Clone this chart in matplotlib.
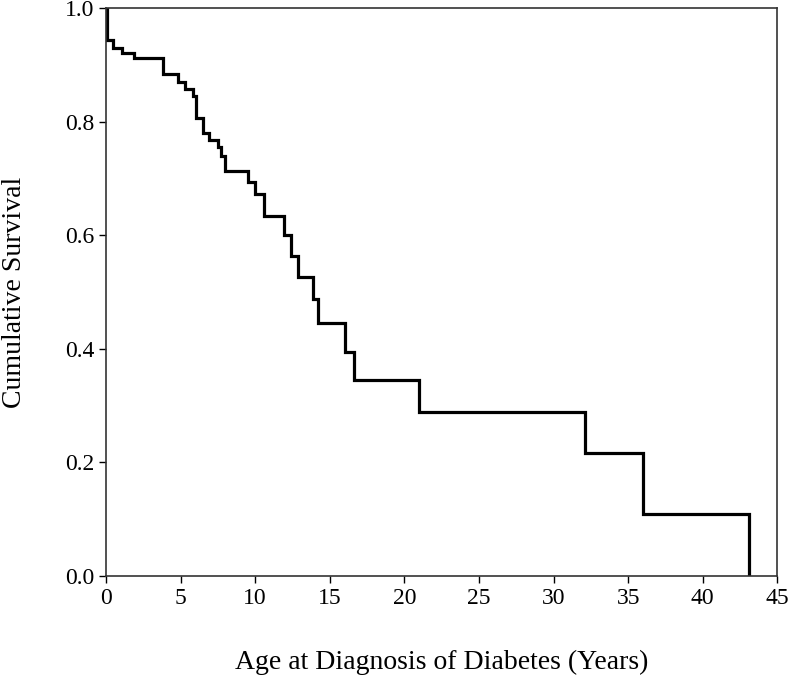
import matplotlib
matplotlib.use("Agg")
import matplotlib.pyplot as plt

# step times (years) and survival after each step
times = [0, 0.1, 0.45, 1.1, 1.9, 3.8, 4.8, 5.3, 5.8, 6.0, 6.5, 6.9, 7.5, 7.7,
         8.0, 9.5, 10.0, 10.6, 11.9, 12.4, 12.9, 13.9, 14.2, 16.0, 16.6,
         21.0, 32.1, 36.0, 43.1]
surv = [1.0, 0.944, 0.930, 0.921, 0.912, 0.884, 0.870, 0.858, 0.845, 0.806,
        0.780, 0.768, 0.755, 0.740, 0.713, 0.694, 0.672, 0.634, 0.600, 0.563,
        0.526, 0.488, 0.445, 0.394, 0.345, 0.288, 0.216, 0.108, 0.0]

xticks = [0, 5, 10, 15, 20, 25, 30, 35, 40, 45]
yticks = [0.0, 0.2, 0.4, 0.6, 0.8, 1.0]

plt.rcParams['font.family'] = ['Liberation Serif', 'DejaVu Serif']

fig = plt.figure(figsize=(7.88, 6.75), dpi=100)
ax = fig.add_axes([0.1345, 0.147, 0.852, 0.841])

# the original curve starts with a vertical drop at t=0
ax.plot([0] + times, [1.0] + surv, drawstyle='steps-post', color='black',
        lw=2.3, solid_joinstyle='miter')

ax.set_xlim(0, 45)
ax.set_ylim(0, 1.0)
ax.set_xticks(xticks)
ax.set_yticks(yticks)
ax.set_yticklabels([f"{v:.1f}" for v in yticks])
ax.tick_params(direction='out', length=5, width=1, labelsize=17, colors='black')
for s in ax.spines.values():
    s.set_color('#333333')
    s.set_linewidth(1.2)

ax.set_xlabel("Age at Diagnosis of Diabetes (Years)", fontsize=20, labelpad=30)
ax.set_ylabel("Cumulative Survival", fontsize=20, labelpad=27)

fig.savefig("out.png", dpi=100)
